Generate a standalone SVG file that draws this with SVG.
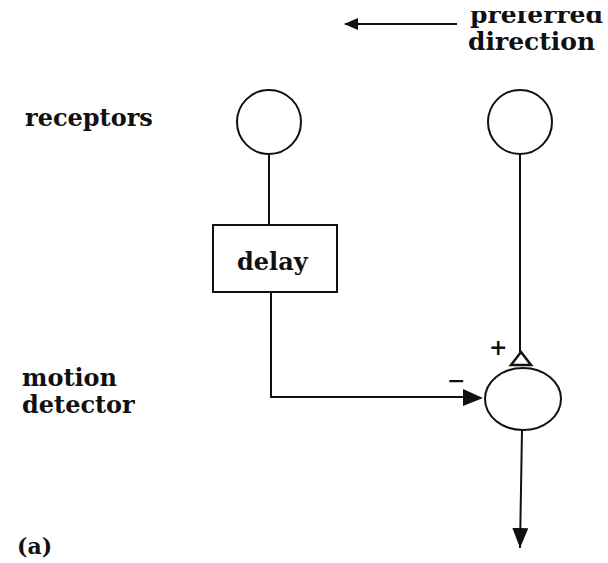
<svg xmlns="http://www.w3.org/2000/svg" width="608" height="563" viewBox="0 0 608 563">
<style>
text{font-family:"DejaVu Serif","Liberation Serif",serif;font-weight:bold;fill:#111}
.s{fill:none;stroke:#111;stroke-width:2}
.n{fill:#fff;stroke:#111;stroke-width:2}
</style>
<defs>
<marker id="ah" markerWidth="14" markerHeight="12" refX="13" refY="6" orient="auto" markerUnits="userSpaceOnUse">
<path d="M0,0 L14,6 L0,12 Z" fill="#111"/>
</marker>
<marker id="ad" markerWidth="20" markerHeight="16" refX="20" refY="8" orient="auto" markerUnits="userSpaceOnUse">
<path d="M0,0 L20,8 L0,16 Z" fill="#111"/>
</marker>
<clipPath id="cut"><rect x="0" y="11" width="608" height="552"/></clipPath>
</defs>
<rect width="608" height="563" fill="#fff"/>
<g id="labels">
<text x="470" y="23" font-size="25" clip-path="url(#cut)">preferred</text>
<text x="468" y="50" font-size="25">direction</text>
<text x="25" y="126" font-size="24">receptors</text>
<text x="22" y="386" font-size="24">motion</text>
<text x="22" y="413" font-size="24">detector</text>
<text x="17" y="554" font-size="22">(a)</text>
<text x="489" y="355" font-size="22">+</text>
<text x="447" y="388" font-size="22">−</text>
</g>
<g id="connectors">
<line class="s" x1="457" y1="24" x2="345" y2="24" marker-end="url(#ah)"/>
<line class="s" x1="269" y1="155" x2="269" y2="225"/>
<polyline class="s" points="271,292 271,397 468,397"/>
<polygon points="463,389 483,398 463,406" fill="#111"/>
<line class="s" x1="520" y1="155" x2="520" y2="352"/>
<polygon points="521,352 531,365 511,365" fill="#fff" stroke="#111" stroke-width="2.5"/>
<line class="s" x1="522" y1="430" x2="520" y2="548" marker-end="url(#ad)"/>
</g>
<g id="receptor-left"><ellipse class="n" cx="269" cy="122" rx="32" ry="32"/></g>
<g id="receptor-right"><ellipse class="n" cx="520" cy="122" rx="32" ry="32"/></g>
<g id="delay"><rect class="n" x="213" y="225" width="124" height="67"/><text x="237" y="270" font-size="24">delay</text></g>
<g id="motion-detector"><ellipse class="n" cx="523" cy="399" rx="38" ry="31"/></g>
</svg>
